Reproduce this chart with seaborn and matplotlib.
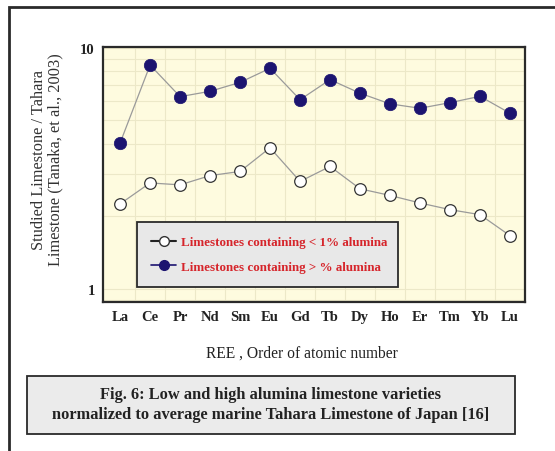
import matplotlib
matplotlib.use("Agg")
import matplotlib.pyplot as plt
from matplotlib.lines import Line2D
from matplotlib.patches import Rectangle
from matplotlib.ticker import LogLocator, NullFormatter, FixedLocator
import seaborn as sns
import pandas as pd

elements = ["La", "Ce", "Pr", "Nd", "Sm", "Eu", "Gd", "Tb", "Dy", "Ho", "Er", "Tm", "Yb", "Lu"]
low_alumina = [2.25, 2.75, 2.70, 2.95, 3.07, 3.85, 2.79, 3.22, 2.60, 2.44, 2.27, 2.13, 2.03, 1.66]
high_alumina = [4.03, 8.5, 6.28, 6.61, 7.2, 8.24, 6.1, 7.39, 6.49, 5.86, 5.62, 5.93, 6.30, 5.36]
label_low = "Limestones containing < 1% alumina"
label_high = "Limestones containing > % alumina"

sns.set_style("white")
plt.rcParams["font.family"] = ["Liberation Serif", "DejaVu Serif"]

df = pd.DataFrame({
    "pos": list(range(len(elements))) * 2,
    "value": low_alumina + high_alumina,
    "series": [label_low] * len(elements) + [label_high] * len(elements),
})

fig = plt.figure(figsize=(5.55, 4.52), dpi=100)
fig.patch.set_facecolor("white")
ax = fig.add_axes([103 / 555, 1 - 303 / 452, (525 - 103) / 555, (303 - 48) / 452])
ax.set_facecolor("#fefbdf")

navy = "#1c1470"
for s in [label_low, label_high]:
    sub = df[df["series"] == s]
    sns.lineplot(data=sub, x="pos", y="value", ax=ax, color="#9a9a9a", linewidth=0.9,
                 legend=False, zorder=3)
sub = df[df["series"] == label_low]
sns.scatterplot(data=sub, x="pos", y="value", ax=ax, s=70, color="white",
                edgecolor="#333333", linewidth=0.9, legend=False, zorder=4)
sub = df[df["series"] == label_high]
sns.scatterplot(data=sub, x="pos", y="value", ax=ax, s=80, color=navy,
                edgecolor=navy, linewidth=0.5, legend=False, zorder=4)

ax.set_yscale("log")
ax.set_ylim(0.88, 10.1)
ax.set_xlim(-0.57, 13.5)
ax.set_yticks([1, 10])
ax.set_yticklabels(["1", "10"])
ax.yaxis.set_minor_locator(LogLocator(base=10, subs=range(2, 10)))
ax.yaxis.set_minor_formatter(NullFormatter())
ax.set_xticks(range(len(elements)))
ax.set_xticklabels(elements)
ax.xaxis.set_minor_locator(FixedLocator([i + 0.5 for i in range(len(elements) - 1)]))
ax.grid(True, which="both", axis="y", color="#ece8c8", linewidth=0.8, zorder=0)
ax.grid(True, which="minor", axis="x", color="#ece8c8", linewidth=0.8, zorder=0)
ax.grid(False, which="major", axis="x")
ax.set_axisbelow(True)
ax.tick_params(axis="both", which="both", length=0, pad=6)
for lab in ax.get_xticklabels() + ax.get_yticklabels():
    lab.set_fontweight("bold")
    lab.set_fontsize(10.5)
    lab.set_color("#222222")
for sp in ax.spines.values():
    sp.set_color("#2a2a2a")
    sp.set_linewidth(1.6)

ax.set_xlabel("REE , Order of atomic number", fontsize=11.2, color="#222222")
ax.xaxis.set_label_coords((302 - 103) / 422, (303 - 354) / 255)
ax.xaxis.label.set_va("center")
ax.set_ylabel("Studied Limestone / Tahara\nLimestone (Tanaka, et al., 2003)", fontsize=11.8,
              color="#333333", linespacing=1.05)
ax.yaxis.set_label_coords((47 - 103) / 422, (303 - 160) / 255)
ax.yaxis.label.set_va("center")

handles = [
    Line2D([0], [0], color="#222222", lw=1.5, marker="o", ms=7, mfc="white", mec="#333333"),
    Line2D([0], [0], color=navy, lw=1.2, marker="o", ms=7, mfc=navy, mec=navy),
]
leg = ax.legend(handles, [label_low, label_high], loc="lower left",
                bbox_to_anchor=((137 - 103) / 422, (303 - 288) / 255, (398 - 137) / 422, (288 - 219) / 255),
                mode="expand", frameon=True, fancybox=False, handlelength=1.9,
                prop={"weight": "bold", "size": 9.4}, labelspacing=0.95, borderpad=1.1,
                handletextpad=0.4, borderaxespad=0)
leg.get_frame().set_facecolor("#e8e8e8")
leg.get_frame().set_edgecolor("#2a2a2a")
leg.get_frame().set_linewidth(1.3)
leg.get_frame().set_alpha(1)
for t in leg.get_texts():
    t.set_color("#d6252b")

# caption box
fig.patches.append(Rectangle((27 / 555, 1 - 435 / 452), (515 - 27) / 555, (435 - 377) / 452,
                             transform=fig.transFigure, facecolor="#ebebeb", edgecolor="#2a2a2a",
                             linewidth=1.3))
fig.text(271 / 555, 1 - 405 / 452,
         "Fig. 6: Low and high alumina limestone varieties\nnormalized to average marine Tahara Limestone of Japan [16]",
         ha="center", va="center", fontsize=11.8, fontweight="bold", color="#222222", linespacing=1.3)

# outer frame (left and top edges only)
fig.lines.append(Line2D([9 / 555, 9 / 555, 1.0], [0.0, 1 - 7.5 / 452, 1 - 7.5 / 452],
                        transform=fig.transFigure, color="#2a2a2a", linewidth=2.0,
                        solid_joinstyle="miter"))

fig.savefig("out.png", dpi=100)
